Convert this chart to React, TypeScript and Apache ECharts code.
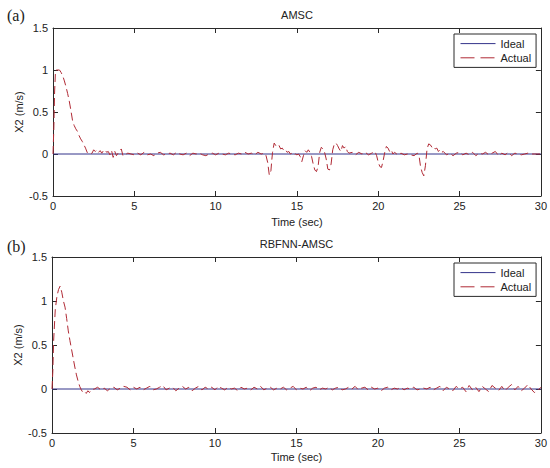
import React, { useEffect, useRef } from "react";
import * as echarts from "echarts";

const xTicks = [0, 5, 10, 15, 20, 25, 30];
const yTicks = [-0.5, 0, 0.5, 1, 1.5];
const titles = ["AMSC", "RBFNN-AMSC"];
const panelTags = ["(a)", "(b)"];
const seriesNames = ["Ideal", "Actual"];

const idealA: [number, number][] = [[0, 0], [30, 0]];
const idealB: [number, number][] = [[0, 0], [30, 0]];

const actualA: [number, number][] = [
  [0, 0], [0.05, 0.3], [0.1, 0.75], [0.15, 0.97], [0.2, 1.0], [0.3, 1.0], [0.4, 1.0], [0.5, 0.97],
  [0.6, 0.93], [0.7, 0.87], [0.8, 0.8], [0.9, 0.72], [1.0, 0.63], [1.1, 0.52], [1.2, 0.4], [1.3, 0.34],
  [1.4, 0.3], [1.5, 0.27], [1.6, 0.22], [1.7, 0.18], [1.8, 0.15], [1.9, 0.11], [2.0, 0.07], [2.1, 0.02],
  [2.2, 0.0], [2.3, 0.0], [2.4, 0.01], [2.5, 0.05], [2.6, 0.03], [2.7, 0.05], [2.8, 0.02], [2.9, 0.04],
  [3.0, 0.01], [3.1, 0.04], [3.2, 0.05], [3.3, 0.02], [3.4, 0.03], [3.5, -0.01], [3.6, 0.04], [3.7, -0.04],
  [3.8, 0.03], [3.9, -0.02], [4.0, 0.01], [4.2, 0.06], [4.3, -0.02], [4.4, -0.01], [4.6, 0.01], [4.8, 0.0],
  [5.0, -0.01], [5.2, 0.01], [5.4, -0.01], [5.6, 0.02], [5.8, -0.01], [6.0, 0.0], [6.2, -0.02], [6.4, 0.01],
  [6.6, 0.02], [6.8, -0.01], [7.0, 0.0], [7.2, 0.01], [7.4, -0.01], [7.6, 0.02], [7.8, 0.0], [8.0, -0.01],
  [8.2, 0.01], [8.4, -0.02], [8.6, 0.01], [8.8, 0.0], [9.0, 0.01], [9.2, -0.01], [9.4, -0.02], [9.6, 0.0],
  [9.8, 0.01], [10.0, -0.01], [10.2, 0.01], [10.4, 0.0], [10.6, -0.01], [10.8, 0.01], [11.0, 0.0], [11.2, -0.01],
  [11.4, 0.01], [11.6, 0.0], [11.8, 0.02], [12.0, 0.0], [12.2, 0.01], [12.4, -0.01], [12.6, 0.02], [12.8, 0.0],
  [13.0, 0.01], [13.1, -0.02], [13.2, -0.1], [13.3, -0.25], [13.4, -0.2], [13.45, -0.08], [13.5, 0.02], [13.6, 0.13],
  [13.7, 0.1], [13.8, 0.08], [13.9, 0.1], [14.0, 0.06], [14.1, 0.07], [14.2, 0.04], [14.3, 0.05], [14.4, 0.02],
  [14.5, 0.03], [14.6, 0.0], [14.7, 0.01], [14.8, -0.01], [14.9, 0.0], [15.0, -0.01], [15.1, 0.0], [15.2, -0.03],
  [15.3, -0.09], [15.4, -0.02], [15.5, 0.04], [15.6, 0.02], [15.7, 0.05], [15.8, 0.02], [15.9, -0.03], [16.0, -0.12],
  [16.1, -0.19], [16.2, -0.21], [16.3, -0.15], [16.4, 0.02], [16.5, 0.08], [16.6, 0.06], [16.7, 0.02], [16.8, -0.06],
  [16.9, -0.18], [17.0, -0.19], [17.1, -0.12], [17.2, 0.05], [17.3, 0.12], [17.4, 0.13], [17.5, 0.1], [17.6, 0.06],
  [17.7, 0.03], [17.8, 0.1], [17.9, 0.07], [18.0, 0.09], [18.1, 0.03], [18.2, 0.01], [18.4, 0.02], [18.6, -0.01],
  [18.8, 0.02], [19.0, 0.0], [19.2, 0.02], [19.4, -0.01], [19.6, 0.01], [19.8, 0.03], [19.9, -0.02], [20.0, -0.1],
  [20.1, -0.15], [20.2, -0.16], [20.3, -0.08], [20.4, 0.02], [20.5, 0.09], [20.6, 0.07], [20.7, 0.03], [20.8, 0.05],
  [20.9, 0.0], [21.0, 0.02], [21.2, -0.01], [21.4, 0.01], [21.6, -0.01], [21.8, 0.0], [22.0, -0.01], [22.2, -0.02],
  [22.4, 0.01], [22.5, -0.01], [22.6, -0.15], [22.7, -0.22], [22.8, -0.26], [22.9, -0.14], [23.0, 0.06], [23.1, 0.12],
  [23.2, 0.11], [23.3, 0.08], [23.4, 0.09], [23.5, 0.06], [23.6, 0.07], [23.7, 0.03], [23.8, 0.05], [23.9, 0.02],
  [24.0, 0.03], [24.2, -0.01], [24.4, 0.01], [24.6, -0.02], [24.8, 0.01], [25.0, 0.02], [25.2, -0.01], [25.4, 0.01],
  [25.6, -0.01], [25.8, 0.02], [26.0, -0.02], [26.2, 0.01], [26.4, 0.0], [26.6, 0.02], [26.8, -0.01], [27.0, 0.01],
  [27.2, 0.03], [27.4, -0.02], [27.6, 0.01], [27.8, -0.01], [28.0, 0.02], [28.2, -0.02], [28.4, 0.01], [28.6, 0.0],
  [28.8, -0.01], [29.0, 0.0], [29.2, 0.01], [29.4, 0.0], [29.6, 0.0], [29.8, 0.0], [30.0, 0.0],
];

const actualB: [number, number][] = [
  [0, 0], [0.05, 0.2], [0.1, 0.55], [0.2, 0.9], [0.3, 1.05], [0.4, 1.13], [0.5, 1.17], [0.6, 1.1],
  [0.7, 1.0], [0.8, 0.93], [0.9, 0.8], [1.0, 0.66], [1.1, 0.55], [1.2, 0.45], [1.3, 0.35], [1.4, 0.25],
  [1.5, 0.16], [1.6, 0.09], [1.7, 0.03], [1.8, -0.01], [1.9, -0.04], [2.0, -0.03], [2.1, -0.05], [2.2, -0.02],
  [2.3, -0.04], [2.4, -0.01], [2.6, 0.0], [2.8, 0.02], [3.0, -0.01], [3.2, 0.01], [3.4, -0.02], [3.6, 0.01],
  [3.8, 0.02], [4.0, -0.01], [4.2, 0.01], [4.4, 0.03], [4.6, 0.02], [4.8, -0.01], [5.0, 0.02], [5.2, 0.0],
  [5.4, 0.02], [5.6, -0.01], [5.8, 0.01], [6.0, 0.03], [6.2, -0.01], [6.4, 0.0], [6.6, 0.02], [6.8, 0.04],
  [7.0, -0.01], [7.2, 0.01], [7.4, 0.02], [7.6, -0.02], [7.8, 0.01], [8.0, 0.03], [8.2, 0.0], [8.4, 0.02],
  [8.6, -0.02], [8.8, 0.01], [9.0, 0.03], [9.2, -0.01], [9.4, 0.02], [9.6, 0.0], [9.8, 0.02], [10.0, -0.01],
  [10.2, 0.03], [10.4, 0.01], [10.6, -0.01], [10.8, 0.02], [11.0, 0.0], [11.2, 0.01], [11.4, -0.02], [11.6, 0.02],
  [11.8, 0.0], [12.0, 0.01], [12.2, -0.01], [12.4, 0.02], [12.6, 0.0], [12.8, 0.03], [13.0, -0.01], [13.2, 0.01],
  [13.4, 0.02], [13.6, -0.01], [13.8, 0.01], [14.0, 0.0], [14.2, 0.02], [14.4, -0.01], [14.6, 0.01], [14.8, 0.03],
  [15.0, -0.01], [15.2, 0.01], [15.4, 0.0], [15.6, 0.02], [15.8, -0.02], [16.0, 0.01], [16.2, 0.02], [16.4, -0.01],
  [16.6, 0.01], [16.8, 0.0], [17.0, 0.02], [17.2, -0.01], [17.4, 0.01], [17.6, 0.02], [17.8, -0.01], [18.0, 0.0],
  [18.2, 0.02], [18.4, 0.0], [18.6, 0.03], [18.8, -0.01], [19.0, 0.01], [19.2, 0.02], [19.4, -0.01], [19.6, 0.02],
  [19.8, 0.0], [20.0, 0.01], [20.2, -0.02], [20.4, 0.01], [20.6, 0.02], [20.8, -0.01], [21.0, 0.01], [21.2, 0.0],
  [21.4, 0.02], [21.6, -0.01], [21.8, 0.01], [22.0, 0.0], [22.2, 0.02], [22.4, -0.01], [22.6, 0.0], [22.8, 0.01],
  [23.0, 0.0], [23.2, 0.02], [23.4, -0.01], [23.6, 0.01], [23.8, 0.03], [24.0, -0.02], [24.2, 0.02], [24.4, 0.0],
  [24.6, -0.02], [24.8, 0.03], [25.0, 0.0], [25.2, 0.02], [25.4, -0.03], [25.6, 0.04], [25.8, -0.01], [26.0, 0.02],
  [26.2, -0.03], [26.4, 0.03], [26.6, 0.0], [26.8, -0.03], [27.0, 0.04], [27.2, 0.01], [27.4, -0.02], [27.6, 0.03],
  [27.8, -0.02], [28.0, 0.02], [28.2, 0.05], [28.4, -0.01], [28.6, 0.03], [28.8, -0.02], [29.0, 0.01], [29.2, 0.05],
  [29.4, 0.0], [29.6, -0.04], [29.8, -0.02], [30.0, 0.02],
];

const FONT = 'Arial, "Liberation Sans", sans-serif';
const AXIS_COLOR = "#2a2a2a";
const IDEAL_COLOR = "#33338a";
const ACTUAL_COLOR = "#b02a35";

export default function App() {
  const ref = useRef<HTMLDivElement>(null);

  useEffect(() => {
    if (!ref.current) return;
    const chart = echarts.init(ref.current, undefined, { renderer: "svg" });

    const grids = [
      { left: 53, right: 9, top: 28, height: 168 },
      { left: 52, right: 9, top: 257, height: 176 },
    ];
    const nameGapsX = [20, 18];

    const xAxes: any[] = [];
    const yAxes: any[] = [];
    grids.forEach((_, gi) => {
      const baseX = {
        type: "value",
        gridIndex: gi,
        min: xTicks[0],
        max: xTicks[xTicks.length - 1],
        interval: 5,
        axisLine: { show: true, onZero: false, lineStyle: { color: AXIS_COLOR, width: 1 } },
        axisTick: { show: true, inside: true, length: 5, lineStyle: { color: AXIS_COLOR } },
        splitLine: { show: false },
      };
      xAxes.push({
        ...baseX,
        position: "bottom",
        name: "Time (sec)",
        nameLocation: "middle",
        nameGap: nameGapsX[gi],
        nameTextStyle: { fontSize: 11, color: "#222", fontFamily: FONT },
        axisLabel: { fontSize: 11, color: "#222", fontFamily: FONT, margin: 4 },
      });
      xAxes.push({ ...baseX, position: "top", axisLabel: { show: false } });
      const baseY = {
        type: "value",
        gridIndex: gi,
        min: yTicks[0],
        max: yTicks[yTicks.length - 1],
        interval: 0.5,
        axisLine: { show: true, onZero: false, lineStyle: { color: AXIS_COLOR, width: 1 } },
        axisTick: { show: true, inside: true, length: 5, lineStyle: { color: AXIS_COLOR } },
        splitLine: { show: false },
      };
      yAxes.push({
        ...baseY,
        position: "left",
        name: "X2 (m/s)",
        nameLocation: "middle",
        nameGap: 29,
        nameMoveOverlap: false,
        nameTextStyle: { fontSize: 11, color: "#222", fontFamily: FONT },
        axisLabel: { fontSize: 11, color: "#222", fontFamily: FONT, margin: 5 },
      });
      yAxes.push({ ...baseY, position: "right", axisLabel: { show: false } });
    });

    const idealData = [idealA, idealB];
    const actualData = [actualA, actualB];
    const series: any[] = [];
    grids.forEach((_, gi) => {
      series.push({
        name: seriesNames[0],
        type: "line",
        xAxisIndex: gi * 2,
        yAxisIndex: gi * 2,
        data: idealData[gi],
        symbol: "none",
        legendIcon: "none",
        lineStyle: { color: IDEAL_COLOR, width: 1 },
        itemStyle: { color: IDEAL_COLOR },
        z: 2,
      });
      series.push({
        name: seriesNames[1],
        type: "line",
        xAxisIndex: gi * 2,
        yAxisIndex: gi * 2,
        data: actualData[gi],
        symbol: "none",
        legendIcon: "none",
        lineStyle: { color: ACTUAL_COLOR, width: 1, type: [8, 4] },
        itemStyle: { color: ACTUAL_COLOR },
        z: 3,
      });
    });

    const legendTops = [34, 263];
    const legends = legendTops.map((top) => ({
      orient: "vertical",
      left: 454,
      top,
      padding: [4, 5, 4, 6],
      itemGap: 3,
      itemWidth: 35,
      itemHeight: 14,
      borderColor: AXIS_COLOR,
      borderWidth: 1,
      borderRadius: 0,
      backgroundColor: "#fff",
      selectedMode: false,
      textStyle: { fontSize: 11, color: "#222", fontFamily: FONT },
      data: [
        {
          name: seriesNames[0],
          itemStyle: { opacity: 0 },
          lineStyle: { color: IDEAL_COLOR, width: 1, type: "solid" },
        },
        {
          name: seriesNames[1],
          itemStyle: { opacity: 0 },
          lineStyle: { color: ACTUAL_COLOR, width: 1, type: [14, 6] },
        },
      ],
    }));

    const titleY = [15, 244];
    const tagY = [15, 246];
    const graphics: any[] = [];
    grids.forEach((g, gi) => {
      graphics.push({
        type: "text",
        x: (g.left + (550 - g.right)) / 2,
        y: titleY[gi],
        style: {
          text: titles[gi],
          fontSize: 11,
          fontFamily: FONT,
          fill: "#222",
          textAlign: "center",
          textVerticalAlign: "middle",
        },
      });
      graphics.push({
        type: "text",
        x: 7,
        y: tagY[gi],
        style: {
          text: panelTags[gi],
          fontSize: 16,
          fontFamily: '"Times New Roman", "Liberation Serif", serif',
          fill: "#222",
          textAlign: "left",
          textVerticalAlign: "middle",
        },
      });
    });

    chart.setOption({
      animation: false,
      backgroundColor: "#fff",
      grid: grids,
      xAxis: xAxes,
      yAxis: yAxes,
      legend: legends,
      series,
      graphic: graphics,
    });

    return () => chart.dispose();
  }, []);

  return (
    <div
      ref={ref}
      style={{ position: "fixed", left: 0, top: 0, width: 550, height: 468 }}
    />
  );
}
